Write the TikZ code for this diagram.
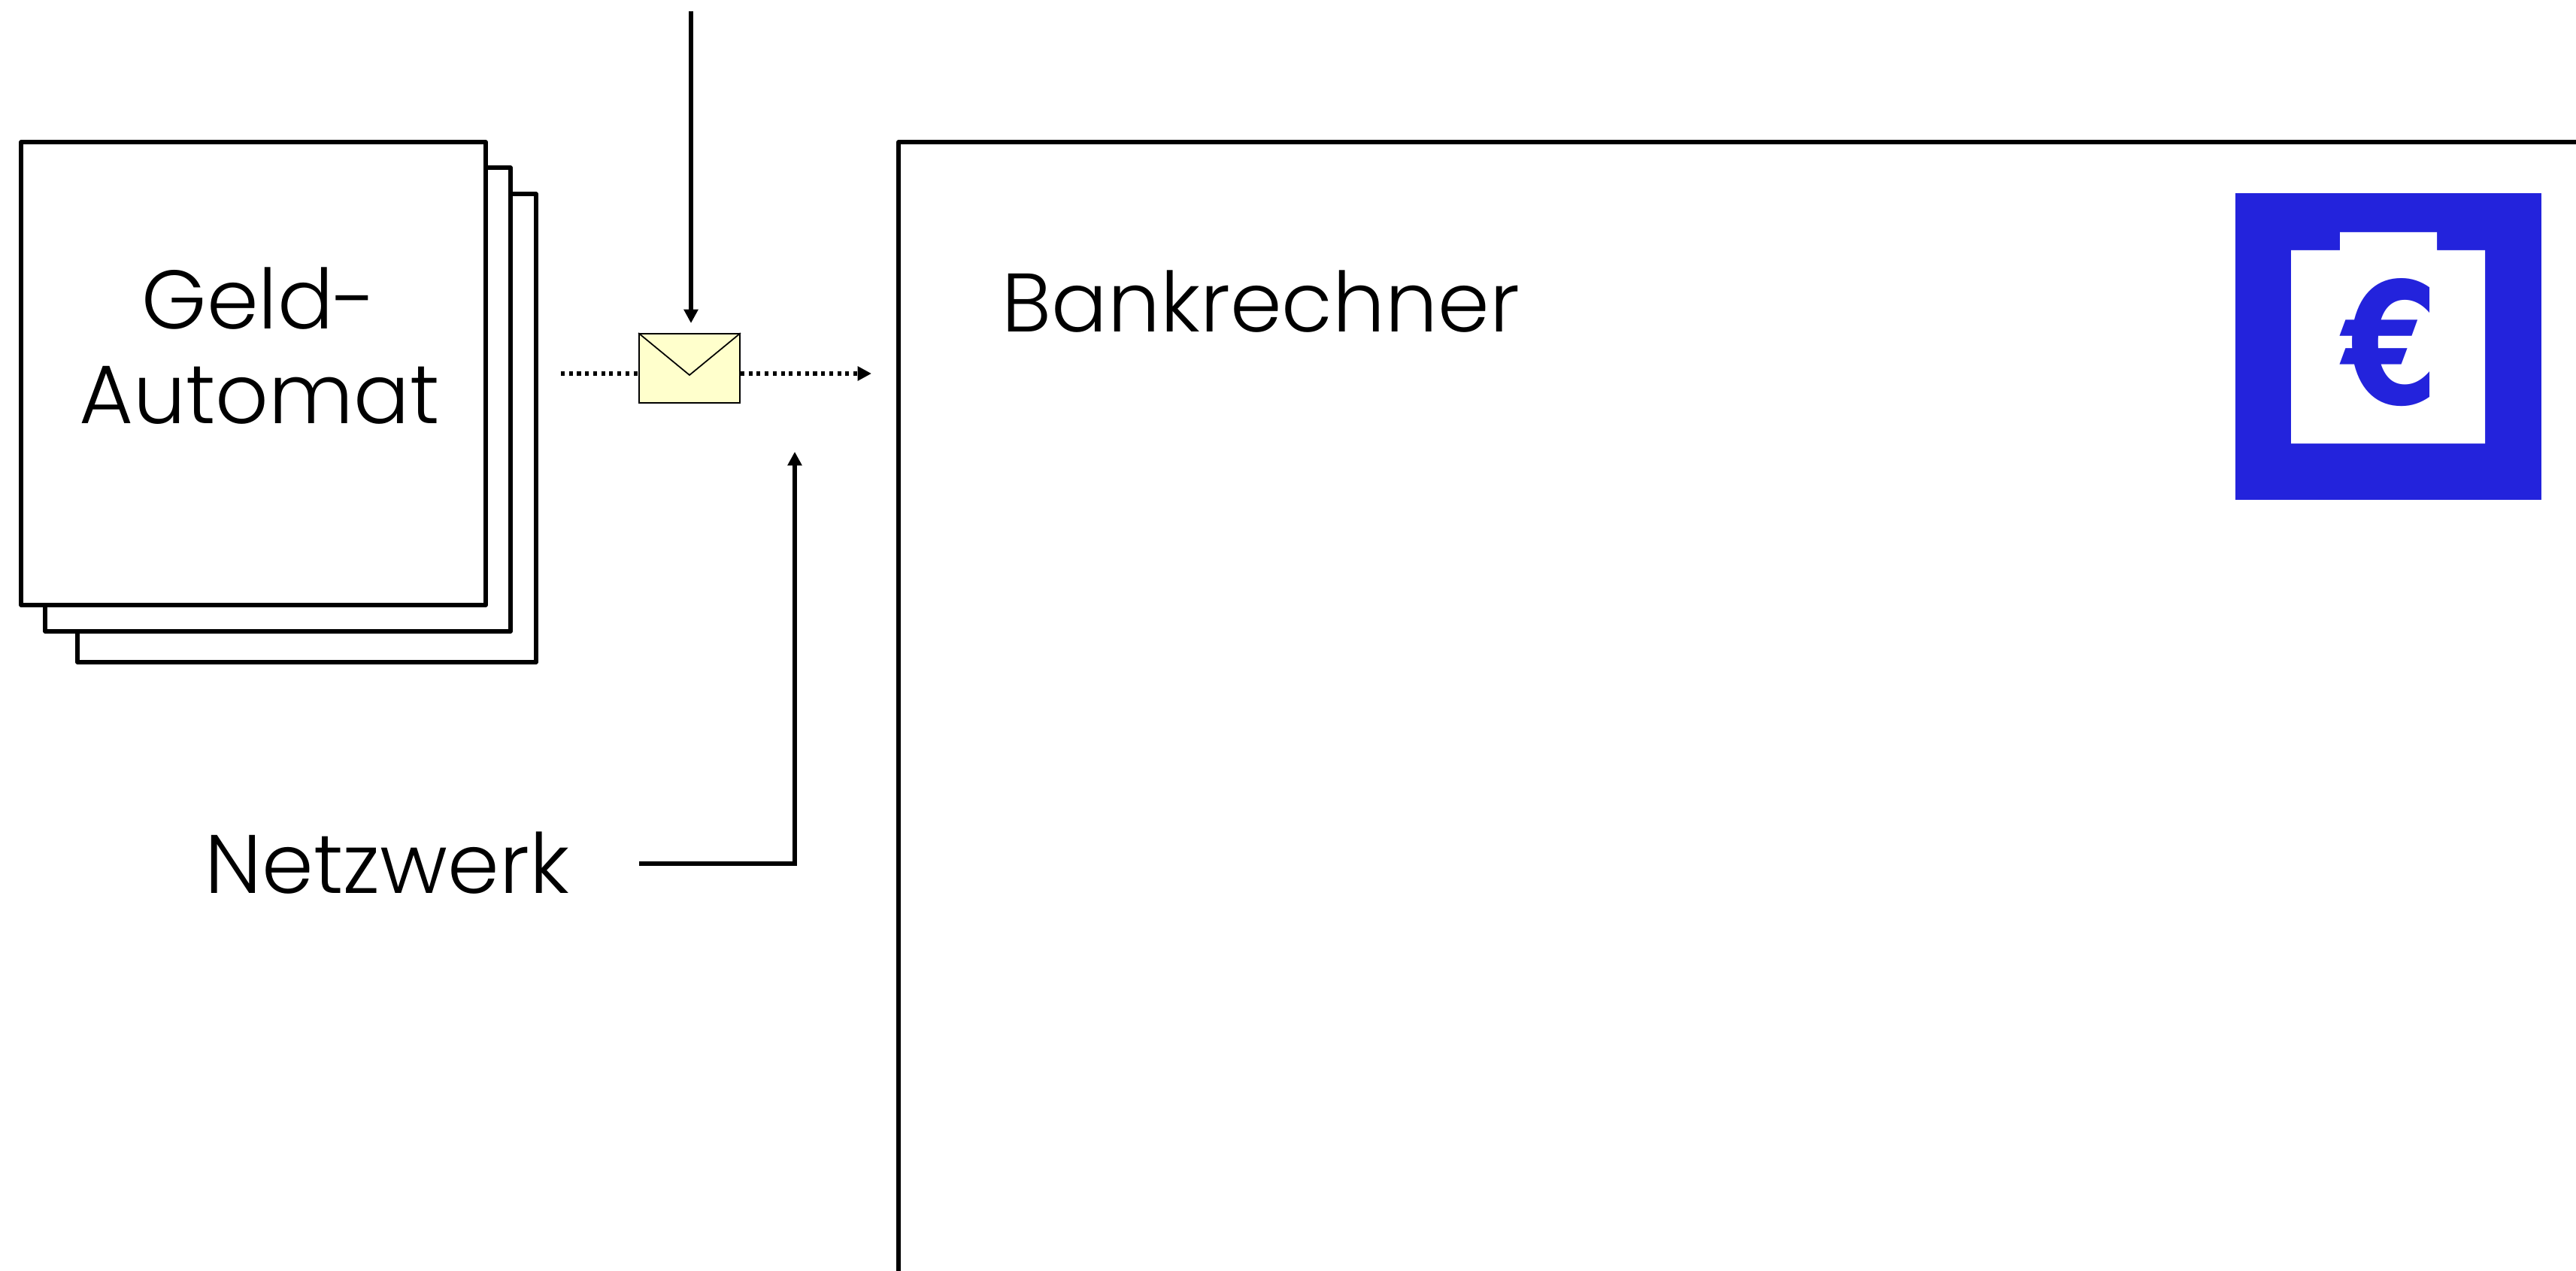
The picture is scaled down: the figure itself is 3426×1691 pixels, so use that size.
\documentclass[tikz,border=0pt]{standalone}
\usepackage{fontspec}
\setmainfont[UprightFont=* Light]{Poppins}
\newfontfamily\eurofont{DejaVu Sans Bold}
\usetikzlibrary{arrows.meta}
\definecolor{bankblue}{HTML}{2323DC}
\definecolor{msgyellow}{HTML}{FFFFCC}
\tikzset{
  boxline/.style={draw=black,line width=1.6pt,line join=round,fill=white},
  flowline/.style={line width=1.5pt,-{Triangle[length=5.2pt,width=5.2pt]}},
  dotline/.style={line width=1.6pt,dash pattern=on 1.45pt off 1.6pt},
  bigtext/.style={font=\fontsize{31.4}{36}\selectfont,inner sep=0pt,anchor=base},
}
\begin{document}
\begin{tikzpicture}[x=0.01cm,y=-0.01cm]
\useasboundingbox (0,0) rectangle (3426,1691);
% automat stack
\draw[boxline] (103,258) rectangle (713,881);
\draw[boxline] (60,223) rectangle (679,840);
\draw[boxline] (28,189) rectangle (646,805);
\node[bigtext] (geld) at (345,437) {Geld-};
\node[bigtext] (automat) at (345,563) {Automat};
% bank
\coordinate (bankbottom) at (1195,1691);
\coordinate (bankright) at (3426,189);
\draw[line width=1.6pt,line join=round] (bankbottom) |- (bankright);
\node[bigtext] (bank) at (1677,441) {Bankrechner};
% message
\node[draw=black,line width=.5pt,fill=msgyellow,minimum width=1.34cm,minimum height=.92cm,inner sep=0pt] (msg) at (917,490) {};
\coordinate (flap) at (917,499);
\draw[line width=.5pt] (msg.north west) -- (flap) -- (msg.north east);
\coordinate (msgstart) at (746,497);
\coordinate (msgend) at (1159,497);
\coordinate (msgtop) at (919,15);
\coordinate (msgtip) at (919,430);
\draw[dotline] (msgstart) -- (msgstart -| msg.west);
\draw[dotline] (msgend -| msg.east) -- (1140,497);
\draw[flowline,dash pattern=on 0pt off 100pt] (1141,497) -- (msgend);
\draw[flowline] (msgtop) -- (msgtip);
% network
\node[bigtext] (netz) at (515,1188) {Netzwerk};
\coordinate (netzstart) at (850,1149);
\coordinate (netztip) at (1057,601);
\draw[flowline] (netzstart) -| (netztip);
% euro icon
\fill[bankblue] (2973,257) rectangle (3380,665);
\fill[white] (3047,333) -- (3112,333) -- (3112,309) -- (3241,309) -- (3241,333) -- (3305,333) -- (3305,590) -- (3047,590) -- cycle;
\node[text=bankblue,inner sep=0pt,font=\eurofont\fontsize{64}{64}\selectfont] (euro) at (3180,456) {\scalebox{.82}[1]{€}};
\end{tikzpicture}
\end{document}
